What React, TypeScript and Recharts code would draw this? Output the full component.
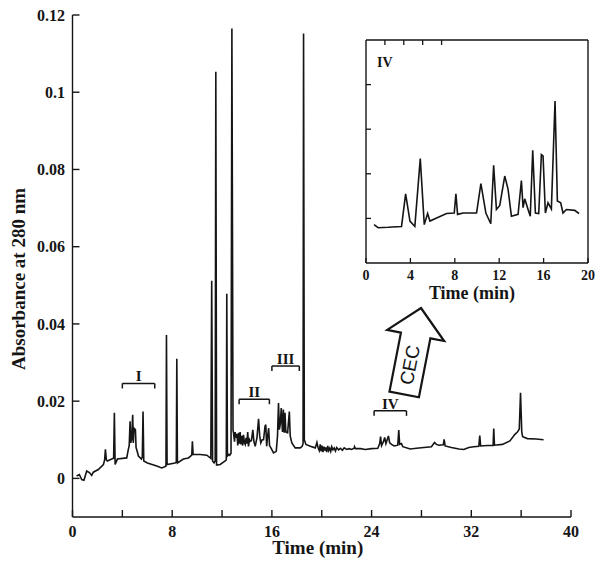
import React from 'react';
import { LineChart, Line, XAxis, YAxis, ReferenceLine } from 'recharts';

// main electropherogram, time in min / absorbance at 280 nm
const mainTime = [
  0.33, 0.55, 0.74, 0.92, 1.14, 1.35, 1.54, 1.67, 2.07, 2.48, 2.58, 2.64, 2.72, 2.8, 3.15, 3.3, 3.36, 3.42, 3.6,
  4.35, 4.48, 4.55, 4.62, 4.67, 4.74, 4.83, 4.88, 4.94, 5.05, 5.1, 5.15, 5.29, 5.53, 5.6, 5.66, 5.72, 6.01,
  6.76, 7.16, 7.4, 7.5, 7.54, 7.59, 8.23, 8.33, 8.37, 8.42, 8.9, 9.3, 9.57, 9.62, 9.68, 10.24, 10.78,
  11.1, 11.17, 11.24, 11.36, 11.45, 11.5, 11.56, 11.64, 11.85, 12.25, 12.34, 12.38, 12.43, 12.55, 12.62,
  12.72, 12.79, 12.84, 12.88, 12.92, 13.0, 13.05, 13.13, 13.2, 13.26, 13.32, 13.38, 13.45, 13.52, 13.59,
  13.66, 13.72, 13.8, 13.86, 13.93, 13.99, 14.06, 14.12, 14.2, 14.26, 14.36, 14.47, 14.56, 14.66, 14.8,
  14.93, 15.02, 15.11, 15.22, 15.33, 15.45, 15.51, 15.58, 15.66, 15.74, 15.81, 15.92, 16.13, 16.35, 16.45,
  16.53, 16.6, 16.67, 16.75, 16.85, 16.92, 16.99, 17.05, 17.12, 17.26, 17.4, 17.47, 17.6, 17.87, 18.27,
  18.43, 18.5, 18.54, 18.6, 18.73, 19.08, 19.48, 19.61, 19.7, 19.8, 19.88, 19.95, 20.02, 20.1, 20.18,
  20.25, 20.32, 20.4, 20.48, 20.56, 20.64, 20.72, 20.8, 20.9, 21.0, 21.1, 21.2, 21.35, 21.5, 21.65, 21.8,
  22.0, 22.2, 22.4, 22.6, 22.63, 22.7, 23.1, 23.5, 24.0, 24.5, 24.65, 24.72, 24.8, 24.95, 25.05, 25.15,
  25.25, 25.35, 25.45, 25.6, 25.8, 26.1, 26.18, 26.25, 26.4, 26.5, 27.1, 27.6, 28.2, 28.8, 29.05, 29.2,
  29.4, 29.75, 29.82, 29.9, 30.4, 31.0, 31.4, 31.8, 32.2, 32.6, 32.68, 32.75, 33.3, 33.75, 33.8, 33.86,
  34.5, 35.1, 35.5, 35.7, 35.85, 35.95, 36.05, 36.12, 36.5, 37.2, 37.8,
];
const mainAbs = [
  0.0006, 0.001, -0.0003, -0.0005, 0.0019, 0.0015, 0.0008, 0.0016, 0.0023, 0.0036, 0.0048, 0.0075, 0.0048, 0.0045, 0.005, 0.0052, 0.017, 0.0036, 0.005,
  0.0053, 0.0075, 0.0085, 0.0148, 0.0092, 0.01, 0.0165, 0.0092, 0.013, 0.0126, 0.008, 0.0075, 0.0058, 0.005, 0.0055, 0.0173, 0.0045, 0.004,
  0.0032, 0.0027, 0.003, 0.0032, 0.0371, 0.0036, 0.004, 0.0042, 0.031, 0.004, 0.005, 0.0053, 0.006, 0.0096, 0.0062, 0.0062, 0.006,
  0.0052, 0.0512, 0.0045, 0.004, 0.0045, 0.1053, 0.0035, 0.0035, 0.0036, 0.0045, 0.0048, 0.0478, 0.0058, 0.0062, 0.006,
  0.0065, 0.1165, 0.06, 0.0125, 0.0118, 0.0095, 0.012, 0.0105, 0.0115, 0.0085, 0.0118, 0.009, 0.012, 0.0088, 0.011,
  0.0085, 0.0113, 0.0092, 0.0088, 0.0105, 0.009, 0.012, 0.0083, 0.01, 0.0096, 0.0098, 0.0126, 0.0095, 0.0083, 0.0105,
  0.0154, 0.011, 0.0092, 0.01, 0.01, 0.0135, 0.0139, 0.0083, 0.011, 0.013, 0.0085, 0.0079, 0.0066, 0.007, 0.011,
  0.0195, 0.0126, 0.014, 0.0182, 0.012, 0.0178, 0.0118, 0.017, 0.012, 0.0118, 0.0173, 0.011, 0.0092, 0.0079, 0.0079,
  0.0083, 0.009, 0.1152, 0.01, 0.0088, 0.0083, 0.0079, 0.0093, 0.008, 0.0072, 0.0088, 0.007, 0.0085, 0.0068, 0.0082,
  0.0072, 0.008, 0.0068, 0.0084, 0.0072, 0.0078, 0.007, 0.0082, 0.0074, 0.0079, 0.0071, 0.008, 0.0074, 0.0078, 0.0073, 0.0079,
  0.0075, 0.0077, 0.0075, 0.0078, 0.0082, 0.0077, 0.0077, 0.0075, 0.0077, 0.0078, 0.009, 0.0108, 0.0085, 0.0095, 0.0106, 0.009,
  0.01, 0.011, 0.0092, 0.0088, 0.0084, 0.0086, 0.0125, 0.0088, 0.009, 0.0082, 0.0076, 0.0078, 0.008, 0.0082, 0.0093, 0.0088,
  0.0086, 0.0087, 0.0101, 0.0084, 0.008, 0.0076, 0.0075, 0.008, 0.0082, 0.0083, 0.0111, 0.0084, 0.0085, 0.0085, 0.0129, 0.0086,
  0.0088, 0.0097, 0.0114, 0.012, 0.0128, 0.0222, 0.012, 0.0108, 0.0103, 0.0102, 0.01,
];

// inset: fraction IV re-run by CEC (arbitrary units)
const insetTime = [
  0.72, 1.1, 2.0, 3.2, 3.57, 3.96, 4.4, 4.89, 5.25, 5.55, 5.76, 6.36, 7.26, 7.95, 8.1, 8.25, 8.76, 9.96, 10.35,
  10.8, 11.24, 11.5, 11.75, 12.05, 12.5, 12.8, 13.1, 13.7, 14.0, 14.15, 14.3, 14.6, 14.8, 15.02, 15.26, 15.56,
  15.8, 15.95, 16.16, 16.4, 16.7, 17.03, 17.24, 17.54, 17.75, 18.05, 18.8, 19.19,
];
const insetSignal = [
  0.86, 0.79, 0.8, 0.82, 1.55, 0.94, 0.82, 2.34, 0.86, 1.11, 0.94, 1.01, 1.11, 1.12, 1.55, 1.09, 1.12, 1.12, 1.78,
  1.12, 0.88, 2.19, 1.2, 1.29, 1.95, 1.65, 1.05, 1.09, 1.85, 1.24, 1.44, 1.2, 1.05, 2.53, 1.12, 1.11,
  2.43, 2.4, 1.12, 1.35, 1.21, 3.63, 1.39, 1.35, 1.12, 1.2, 1.18, 1.11,
];

const mainXTicks = [0, 4, 8, 12, 16, 20, 24, 28, 32, 36, 40];
const mainYTicks = [0, 0.02, 0.04, 0.06, 0.08, 0.1, 0.12];
const insetXTicks = [0, 4, 8, 12, 16, 20];
const insetInnerTicks = [4, 8, 12, 16];
const insetYTicks = [1, 2, 3, 4];

// fraction brackets
const regionNames = ['I', 'II', 'III', 'IV'];
const regionStart = [4.0, 13.37, 16.0, 24.2];
const regionEnd = [6.6, 15.8, 18.2, 26.8];
const regionLevel = [0.0246, 0.0205, 0.0291, 0.0175];

const serif = "'Liberation Serif', 'Times New Roman', serif";
const ink = '#151515';

const mainData = mainTime.map((t, i) => ({ t, abs: mainAbs[i] }));
const insetData = insetTime.map((t, i) => ({ t, v: insetSignal[i] }));

const axisStroke = { stroke: ink, strokeWidth: 1.4 };
const boldText = (size: number) => ({ fontFamily: serif, fontWeight: 700, fontSize: size, fill: ink });

// inward tick marks drawn together with the label (tickSize 0, so x/y sit on the axis + margin)
const MainXTick = (p: any) => {
  const v = p.payload.value;
  const ay = p.y - 9;
  return (
    <g>
      <line x1={p.x} x2={p.x} y1={ay} y2={ay - 7} stroke={ink} strokeWidth={1.4} />
      {v % 8 === 0 && (
        <text x={p.x} y={ay + 20} textAnchor="middle" style={boldText(16)}>
          {v}
        </text>
      )}
    </g>
  );
};

const MainYTick = (p: any) => {
  const v = p.payload.value;
  const ax = p.x + 9;
  return (
    <g>
      <line x1={ax} x2={ax + 7} y1={p.y} y2={p.y} stroke={ink} strokeWidth={1.4} />
      <text x={ax - 7.5} y={p.y} dy="0.35em" textAnchor="end" style={boldText(16)}>
        {v === 0 ? '0' : String(Number(v.toFixed(2)))}
      </text>
    </g>
  );
};

const InsetBottomTick = (p: any) => {
  const ay = p.y - 9;
  return (
    <g>
      <line x1={p.x} x2={p.x} y1={ay} y2={ay - 5} stroke={ink} strokeWidth={1.3} />
      <text x={p.x} y={ay + 16.5} textAnchor="middle" style={boldText(14)}>
        {p.payload.value}
      </text>
    </g>
  );
};

const InsetTopTick = (p: any) => <line x1={p.x} x2={p.x} y1={p.y} y2={p.y + 5} stroke={ink} strokeWidth={1.3} />;
const InsetLeftTick = (p: any) => <line x1={p.x} x2={p.x + 5} y1={p.y} y2={p.y} stroke={ink} strokeWidth={1.3} />;
const InsetRightTick = (p: any) => <line x1={p.x} x2={p.x - 5} y1={p.y} y2={p.y} stroke={ink} strokeWidth={1.3} />;

export default function App() {
  return (
    <div style={{ position: 'absolute', left: 0, top: 0, width: 604, height: 568, background: '#fff' }}>
      <LineChart width={604} height={568} data={mainData} margin={{ top: 15, right: 33, left: 0, bottom: 0 }}>
        <XAxis
          dataKey="t"
          type="number"
          domain={[0, 40]}
          ticks={mainXTicks}
          interval={0}
          height={51}
          tickSize={0}
          tickMargin={9}
          tickLine={false}
          axisLine={axisStroke}
          tick={MainXTick}
          label={(p: any) => (
            <text
              x={p.viewBox.x + p.viewBox.width / 2 - 4}
              y={p.viewBox.y + 37}
              textAnchor="middle"
              style={boldText(19)}
            >
              Time (min)
            </text>
          )}
        />
        <YAxis
          type="number"
          domain={[-0.01, 0.12]}
          ticks={mainYTicks}
          interval={0}
          width={72.5}
          tickSize={0}
          tickMargin={9}
          tickLine={false}
          axisLine={axisStroke}
          tick={MainYTick}
          label={(p: any) => {
            const cx = p.viewBox.x + 18;
            const cy = p.viewBox.y + p.viewBox.height / 2 + 13;
            return (
              <text
                x={cx}
                y={cy}
                transform={`rotate(-90 ${cx} ${cy})`}
                textAnchor="middle"
                dominantBaseline="central"
                style={boldText(19)}
              >
                Absorbance at 280 nm
              </text>
            );
          }}
        />
        {regionNames.map((name, i) => (
          <ReferenceLine
            key={'h' + name}
            segment={[{ x: regionStart[i], y: regionLevel[i] }, { x: regionEnd[i], y: regionLevel[i] }]}
            stroke={ink}
            strokeWidth={1.5}
            label={{ value: name, position: 'top', offset: 2, style: boldText(15) }}
          />
        ))}
        {regionNames.map((name, i) => (
          <ReferenceLine
            key={'l' + name}
            segment={[{ x: regionStart[i], y: regionLevel[i] }, { x: regionStart[i], y: regionLevel[i] - 0.0013 }]}
            stroke={ink}
            strokeWidth={1.5}
          />
        ))}
        {regionNames.map((name, i) => (
          <ReferenceLine
            key={'r' + name}
            segment={[{ x: regionEnd[i], y: regionLevel[i] }, { x: regionEnd[i], y: regionLevel[i] - 0.0013 }]}
            stroke={ink}
            strokeWidth={1.5}
          />
        ))}
        <Line type="linear" dataKey="abs" stroke={ink} strokeWidth={1.6} dot={false} isAnimationActive={false} />
      </LineChart>

      <div style={{ position: 'absolute', left: 356, top: 30 }}>
        <LineChart width={248} height={310} data={insetData} margin={{ top: 9, right: 15, left: 9, bottom: 37 }}>
          <XAxis
            xAxisId="bottom"
            dataKey="t"
            type="number"
            domain={[0, 20]}
            ticks={insetXTicks}
            interval={0}
            height={40}
            tickSize={0}
            tickMargin={9}
            tickLine={false}
            axisLine={axisStroke}
            tick={InsetBottomTick}
            label={(p: any) => (
              <text
                x={p.viewBox.x + p.viewBox.width / 2 - 5}
                y={p.viewBox.y + 36}
                textAnchor="middle"
                style={boldText(18)}
              >
                Time (min)
              </text>
            )}
          />
          <XAxis
            xAxisId="top"
            orientation="top"
            type="number"
            domain={[0, 20]}
            ticks={insetInnerTicks}
            interval={0}
            height={1}
            tickSize={0}
            tickMargin={0}
            tickLine={false}
            axisLine={axisStroke}
            tick={InsetTopTick}
          />
          <YAxis
            yAxisId="left"
            type="number"
            domain={[0, 5]}
            ticks={insetYTicks}
            interval={0}
            width={1}
            tickSize={0}
            tickMargin={0}
            tickLine={false}
            axisLine={axisStroke}
            tick={InsetLeftTick}
          />
          <YAxis
            yAxisId="right"
            orientation="right"
            type="number"
            domain={[0, 5]}
            ticks={insetYTicks}
            interval={0}
            width={1}
            tickSize={0}
            tickMargin={0}
            tickLine={false}
            axisLine={axisStroke}
            tick={InsetRightTick}
          />
          <Line
            xAxisId="bottom"
            yAxisId="left"
            type="linear"
            dataKey="v"
            stroke={ink}
            strokeWidth={1.6}
            dot={false}
            isAnimationActive={false}
          />
        </LineChart>
      </div>

      <svg width={604} height={568} style={{ position: 'absolute', left: 0, top: 0, pointerEvents: 'none' }}>
        <text x={377} y={67} style={boldText(14)}>
          IV
        </text>
        <g transform="translate(421 308) rotate(11)">
          <polygon
            points="0,0 29,28 15,28 15,88 -15,88 -15,28 -29,28"
            fill="#fff"
            stroke={ink}
            strokeWidth={2.2}
            strokeLinejoin="miter"
          />
          <text
            x={0}
            y={58}
            transform="rotate(-90 0 58)"
            textAnchor="middle"
            dominantBaseline="central"
            style={{ fontFamily: "'Liberation Sans', Arial, sans-serif", fontSize: 19, fill: ink }}
          >
            CEC
          </text>
        </g>
      </svg>
    </div>
  );
}
